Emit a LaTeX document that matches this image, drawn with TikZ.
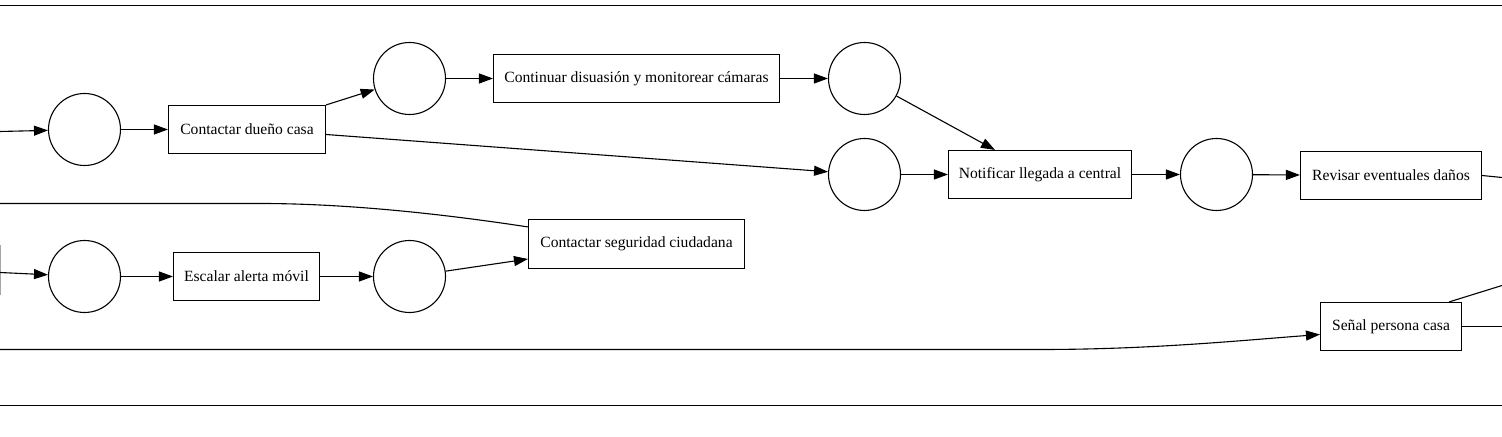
\documentclass[tikz,border=0pt]{standalone}
\usepackage{fontspec}
\setmainfont{Liberation Serif}
\usetikzlibrary{arrows.meta,calc}
\begin{document}
\begin{tikzpicture}[x=1bp,y=-1bp,
  every node/.style={font=\fontsize{15.6bp}{18bp}\selectfont},
  st/.style={circle,draw,line width=1.1bp,minimum size=72bp,inner sep=0pt},
  act/.style={rectangle,draw,line width=1.1bp,inner sep=0pt},
  edge/.style={line width=1.1bp},
  arr/.style={edge,-{Triangle[length=14bp,width=10bp]}},
  border/.style={line width=1.1bp}]
\useasboundingbox (-0.5,-0.5) rectangle (1501.5,436.5);
% border lines
\coordinate (bl1) at (-0.5,5);
\coordinate (br1) at (1501.5,5);
\coordinate (bl2) at (-0.5,405);
\coordinate (br2) at (1501.5,405);
\draw[border] (bl1) -- (br1);
\draw[border] (bl2) -- (br2);
% partial node edge at left
\coordinate (pe1) at (0,245);
\coordinate (pe2) at (0,295);
\draw[line width=1bp,gray!70] (pe1) -- (pe2);
% nodes
\node[st] (c1) at (84,129) {};
\node[act,minimum width=157bp,minimum height=48bp] (cdc) at (246.5,129) {Contactar dueño casa};
\node[st] (c2) at (409,78) {};
\node[act,minimum width=286bp,minimum height=48bp] (cdm) at (636,78) {Continuar disuasión y monitorear cámaras};
\node[st] (c3) at (864,78) {};
\node[st] (c4) at (864,174) {};
\node[act,minimum width=183bp,minimum height=48bp] (nlc) at (1039.5,174) {Notificar llegada a central};
\node[st] (c5) at (1216,174) {};
\node[act,minimum width=181bp,minimum height=48bp] (red) at (1390.5,175) {Revisar eventuales daños};
\node[act,minimum width=216bp,minimum height=49bp] (csc) at (636,243.5) {Contactar seguridad ciudadana};
\node[st] (c6) at (84,276) {};
\node[act,minimum width=146bp,minimum height=48bp] (eam) at (246,276) {Escalar alerta móvil};
\node[st] (c7) at (409,276) {};
\node[act,minimum width=141bp,minimum height=48bp] (spc) at (1390.5,326) {Señal persona casa};
% free ends
\coordinate (in1) at (-0.5,131);
\coordinate (in2) at (-0.5,272);
\coordinate (out1) at (-0.5,203);
\coordinate (in3) at (-0.5,349);
\coordinate (out2) at (1501.5,177);
\coordinate (out3) at (1501.5,285);
\coordinate (out4) at (1501.5,326);
% edges
\draw[arr] (in1) -- (c1);
\draw[arr] (c1) -- (cdc);
\draw[arr] (cdc.north east) -- (c2);
\draw[arr] ([yshift=-5bp]cdc.east) -- (c4);
\draw[arr] (c2) -- (cdm);
\draw[arr] (cdm) -- (c3);
\draw[arr] (c3) -- ([xshift=-45bp]nlc.north);
\draw[arr] (c4) -- (nlc);
\draw[arr] (nlc) -- (c5);
\draw[arr] (c5) -- (red);
\draw[edge] (red.east) -- (out2);
\draw[arr] (in2) -- (c6);
\draw[arr] (c6) -- (eam);
\draw[arr] (eam) -- (c7);
\draw[arr] (c7) -- ([yshift=-15bp]csc.west);
\draw[edge] ([yshift=-8bp]csc.north west) .. controls (420,210) and (330,203) .. (260,203) -- (out1);
\draw[arr] (in3) -- (1040,349) .. controls (1150,349) and (1240,340) .. ([yshift=-8bp]spc.west);
\draw[edge] ([xshift=-13bp]spc.north east) -- (out3);
\draw[edge] (spc.east) -- (out4);
\end{tikzpicture}
\end{document}
